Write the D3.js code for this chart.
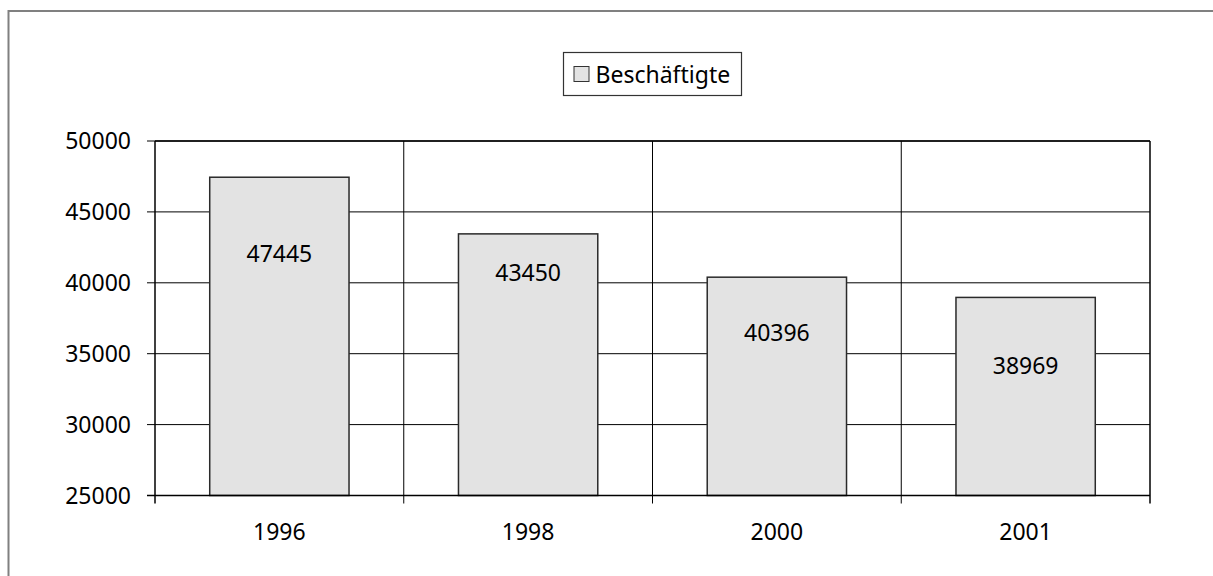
<!DOCTYPE html>
<html>
<head>
<meta charset="utf-8">
<script src="https://cdn.jsdelivr.net/npm/d3@7/dist/d3.min.js"></script>
<style>
  html, body { margin: 0; padding: 0; background: #fff; }
  text { font-family: "Noto Sans", "Open Sans", sans-serif; fill: #000; }
</style>
</head>
<body>
<div id="chart"></div>
<script>
// data
const years = ['1996', '1998', '2000', '2001'];
const employees = [47445, 43450, 40396, 38969];
// where the value labels sit (in data units, hand placed in the original)
const labelAnchor = [42030, 40690, 36460, 34130];
const yTicks = [25000, 30000, 35000, 40000, 45000, 50000];
const seriesName = 'Beschäftigte';

const width = 1213, height = 576;
const plot = { left: 155, top: 141, right: 1150, bottom: 495.5 };

const svg = d3.select('#chart').append('svg')
  .attr('width', width)
  .attr('height', height);

// outer chart frame
svg.append('rect')
  .attr('x', 8.5).attr('y', 11)
  .attr('width', width + 20).attr('height', height + 20)
  .attr('fill', 'none')
  .attr('stroke', '#808080')
  .attr('stroke-width', 2);

const x = d3.scaleBand()
  .domain(years)
  .range([plot.left, plot.right])
  .paddingInner(0.44)
  .paddingOuter(0.22);

const y = d3.scaleLinear()
  .domain([25000, 50000])
  .range([plot.bottom, plot.top]);

// horizontal gridlines
svg.append('g')
  .selectAll('line')
  .data(yTicks)
  .enter().append('line')
  .attr('x1', plot.left - 8)
  .attr('x2', plot.right)
  .attr('y1', d => y(d))
  .attr('y2', d => y(d))
  .attr('stroke', '#000')
  .attr('stroke-width', 1);

// vertical gridlines at category boundaries
const step = x.step();
const bounds = d3.range(years.length + 1).map(i => plot.left + i * step);
svg.append('g')
  .selectAll('line')
  .data(bounds)
  .enter().append('line')
  .attr('x1', d => d)
  .attr('x2', d => d)
  .attr('y1', plot.top)
  .attr('y2', plot.bottom + 8)
  .attr('stroke', '#000')
  .attr('stroke-width', (d, i) => (i === 0 || i === bounds.length - 1) ? 1.5 : 1);

// top border of plot
svg.append('line')
  .attr('x1', plot.left).attr('x2', plot.right)
  .attr('y1', plot.top).attr('y2', plot.top)
  .attr('stroke', '#000').attr('stroke-width', 1.5);

// bars
svg.append('g')
  .selectAll('rect')
  .data(employees)
  .enter().append('rect')
  .attr('x', (d, i) => x(years[i]))
  .attr('y', d => y(d))
  .attr('width', x.bandwidth())
  .attr('height', d => y(25000) - y(d))
  .attr('fill', '#e3e3e3')
  .attr('stroke', '#2a2a2a')
  .attr('stroke-width', 1.5);

// bottom axis line over bars
svg.append('line')
  .attr('x1', plot.left - 8).attr('x2', plot.right)
  .attr('y1', plot.bottom).attr('y2', plot.bottom)
  .attr('stroke', '#000').attr('stroke-width', 1.5);

// value labels
svg.append('g')
  .selectAll('text')
  .data(employees)
  .enter().append('text')
  .attr('x', (d, i) => x(years[i]) + x.bandwidth() / 2)
  .attr('y', (d, i) => y(labelAnchor[i]))
  .attr('dy', '0.35em')
  .attr('text-anchor', 'middle')
  .attr('font-size', 23)
  .text(d => d);

// y tick labels
svg.append('g')
  .selectAll('text')
  .data(yTicks)
  .enter().append('text')
  .attr('x', 131)
  .attr('y', d => y(d))
  .attr('dy', '0.35em')
  .attr('text-anchor', 'end')
  .attr('font-size', 23)
  .text(d => d);

// x tick labels
svg.append('g')
  .selectAll('text')
  .data(years)
  .enter().append('text')
  .attr('x', d => x(d) + x.bandwidth() / 2)
  .attr('y', 532)
  .attr('dy', '0.35em')
  .attr('text-anchor', 'middle')
  .attr('font-size', 23)
  .text(d => d);

// legend
const legend = svg.append('g').attr('transform', 'translate(563.5,52.5)');
legend.append('rect')
  .attr('width', 178).attr('height', 43)
  .attr('fill', '#fff')
  .attr('stroke', '#333')
  .attr('stroke-width', 1.2);
legend.append('rect')
  .attr('x', 10.5).attr('y', 14)
  .attr('width', 15).attr('height', 15)
  .attr('fill', '#e3e3e3')
  .attr('stroke', '#333')
  .attr('stroke-width', 1);
legend.append('text')
  .attr('x', 32).attr('y', 22)
  .attr('dy', '0.35em')
  .attr('font-size', 23)
  .text(seriesName);
</script>
</body>
</html>
